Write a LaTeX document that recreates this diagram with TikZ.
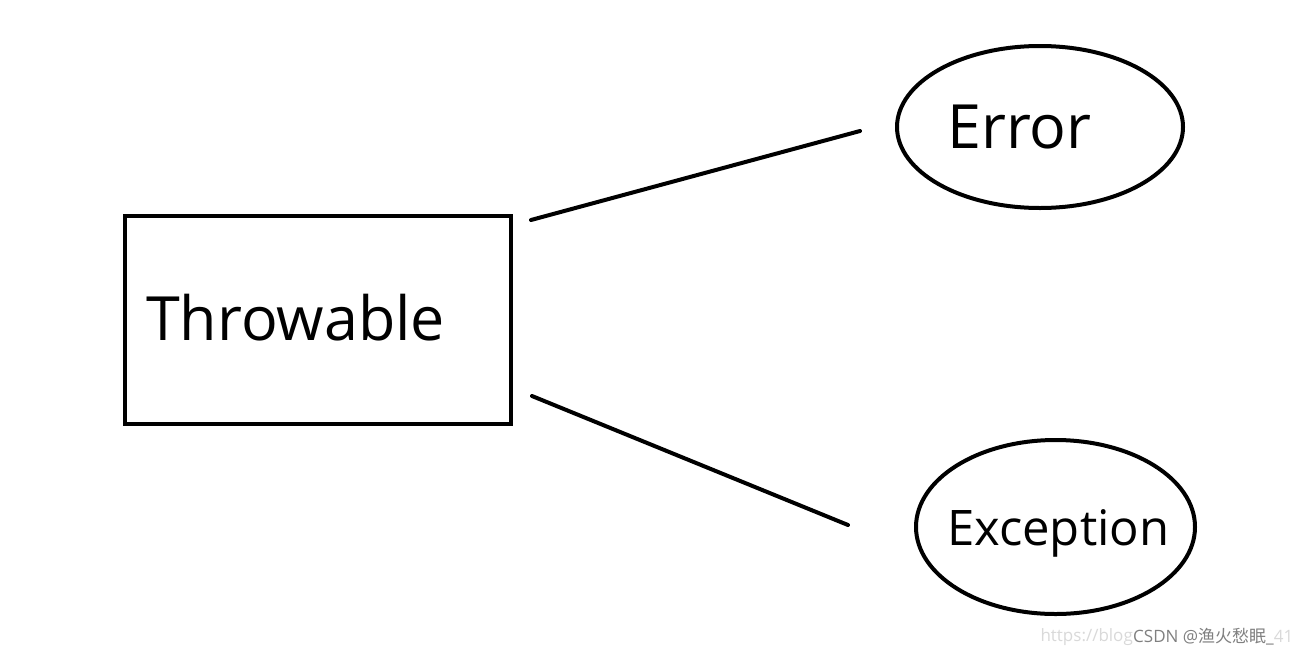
\documentclass[tikz,border=0pt]{standalone}
\usepackage{fontspec}
\setmainfont{Open Sans}
\newfontfamily\cjk{Noto Sans CJK SC}
\usetikzlibrary{shapes.geometric}
\begin{document}
\begin{tikzpicture}[x=1pt,y=-1pt,
  shapeline/.style={draw=black, line width=4pt},
  boxnode/.style={shapeline, rectangle, inner sep=0pt},
  ovalnode/.style={shapeline, ellipse, inner sep=0pt},
  lbl/.style={anchor=base west, inner sep=0pt, font=\fontsize{61}{70}\selectfont},
  lblsmall/.style={anchor=base west, inner sep=0pt, font=\fontsize{49}{58}\selectfont},
  conn/.style={line width=4pt, line cap=round},
  wm/.style={inner sep=0pt, font=\fontsize{17}{20}\selectfont}]
\useasboundingbox (0,0) rectangle (1303,656);
\fill[white] (0,0) rectangle (1303,656);
\node[boxnode, minimum width=386pt, minimum height=208pt] (throwable) at (318,320) {};
\node[ovalnode, minimum width=286pt, minimum height=162pt] (error) at (1040,127) {};
\node[ovalnode, minimum width=279pt, minimum height=174pt] (exception) at (1055.5,527) {};
\node[lbl] (tthrowable) at (146,340) {Throwable};
\node[lbl] (terror) at (947,148) {Error};
\node[lblsmall] (texception) at (947,545) {Exception};
\coordinate (a1) at (531,220);
\coordinate (a2) at (860,131);
\coordinate (b1) at (532,396);
\coordinate (b2) at (848,525);
\draw[conn] (a1) -- (a2);
\draw[conn] (b1) -- (b2);
\node[wm, anchor=west, text=black!15] (csdn) at (1133,637) {\textcolor{black!50}{CSDN @{\cjk 渔火愁眠}\_}41};
\node[wm, anchor=east, text=black!15] (url) at (csdn.west) {https://blog};
\end{tikzpicture}
\end{document}
